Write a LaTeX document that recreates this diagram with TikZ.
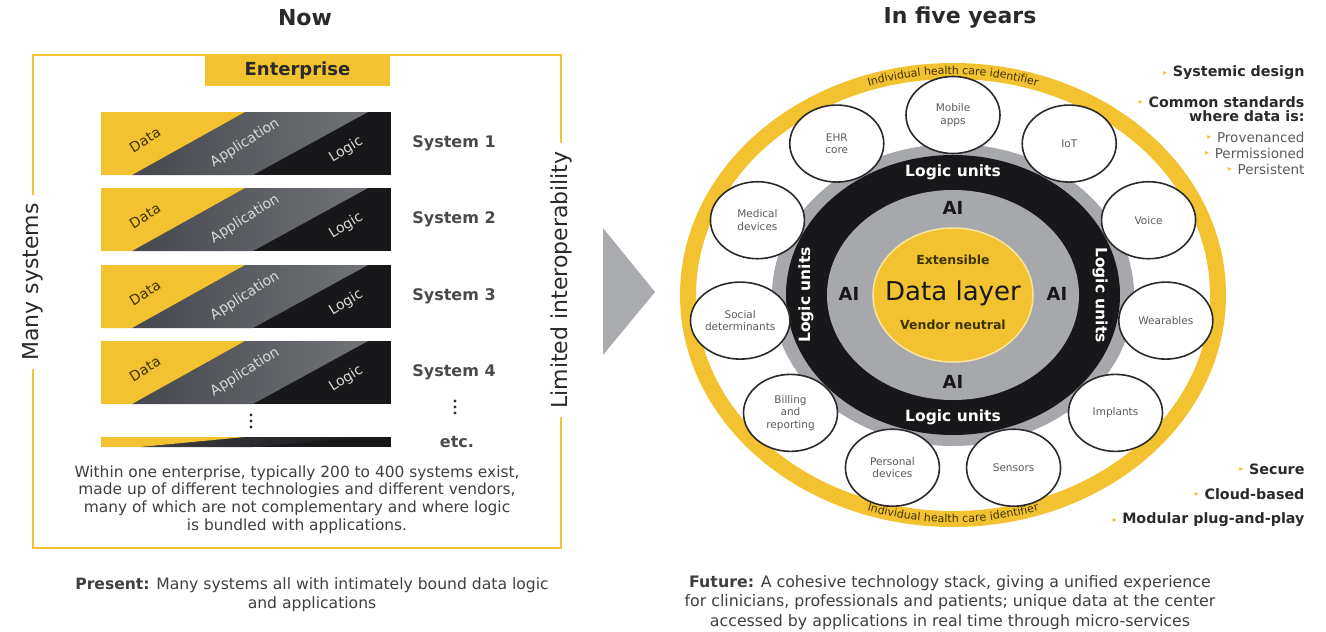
\documentclass[tikz,border=0pt]{standalone}
\usepackage{fontspec}
\setmainfont{DejaVu Sans}
\usetikzlibrary{shapes.geometric,decorations.text}

\definecolor{eyyellow}{HTML}{F3C230}
\definecolor{eygray}{HTML}{4D5055}
\definecolor{eyblack}{HTML}{18181A}
\definecolor{discgray}{HTML}{A6A8AB}
\definecolor{arrowgray}{HTML}{A9ABAE}
\definecolor{inkgray}{HTML}{5A5A5C}
\definecolor{darkink}{HTML}{2A2A2C}
\definecolor{olive}{HTML}{3D3300}

\newcommand{\fs}[2]{\fontsize{#1}{#2}\selectfont}
\newcommand{\ringfont}{\fontsize{11}{11}\selectfont\color{olive}}

\tikzset{
  frame/.style={eyyellow, line width=2pt},
  heading/.style={font=\bfseries\fs{22}{25}, text=darkink},
  sidetitle/.style={font=\fs{22}{26}, text=darkink, rotate=90, inner sep=8pt},
  syslabel/.style={font=\bfseries\fs{16}{18}, text=darkink!85},
  barlabel/.style={font=\fs{14}{16}, rotate=32},
  satellite/.style={ellipse, draw=darkink, line width=1.6pt, fill=white,
    minimum width=94pt, minimum height=77pt, inner sep=0pt, align=center,
    font=\fs{10.5}{12.5}, text=inkgray},
  unitlabel/.style={font=\bfseries\fs{15.5}{17}, text=white},
  ailabel/.style={font=\bfseries\fs{18}{20}, text=eyblack},
  pointer/.style={anchor=east, label={[text=eyyellow, font=\fs{8}{8}, inner sep=2pt]left:▸}},
  keypoint/.style={pointer, font=\bfseries\fs{14.3}{16}, text=darkink},
  subpoint/.style={pointer, font=\fs{13.5}{15}, text=inkgray},
  caption/.style={align=center, font=\fs{15.8}{19.5}, text=darkink!90},
}

\begin{document}
\begin{tikzpicture}[x=1pt, y=1pt]
\useasboundingbox (0,0) rectangle (1326,-632);
% headings
\node[heading] (now) at (305,-18) {Now};
\node[heading] (fiveyears) at (960,-18) {In five years};

% enterprise frame
\node[sidetitle] (many) at (33,-282) {Many systems};
\node[sidetitle] (limited) at (561,-280) {Limited interoperability};
\draw[frame] (many.east) -- (33,-55) -- (561,-55) -- (limited.east);
\draw[frame] (many.west) -- (33,-548) -- (561,-548) -- (limited.west);
\fill[eyyellow] (205,-55) rectangle (390,-86);
\node[font=\bfseries\fs{18}{20}, text=darkink] (enterprise) at (297.5,-70.5) {Enterprise};

% systems
\foreach \top/\n in {112/1, 188/2, 265/3, 341/4} {
  \fill[eyblack] (101,-\top) rectangle (391,-\top-63);
  \shade[left color=eygray!90!black, right color=eygray!80!white]
    (245,-\top) -- (368,-\top) -- (253,-\top-63) -- (132,-\top-63) -- cycle;
  \fill[eyyellow] (101,-\top) -- (245,-\top) -- (132,-\top-63) -- (101,-\top-63) -- cycle;
  \node[barlabel, text=olive] (data\n) at (145,-\top-28) {Data};
  \node[barlabel, text=white!70!gray] (app\n) at (245,-\top-31) {Application};
  \node[barlabel, text=white!70!gray] (logic\n) at (346,-\top-38) {Logic};
  \node[syslabel] (sys\n) at (454,-\top-31) {System \n};
}
% etc.
\fill[eyblack] (101,-437) rectangle (391,-447);
\shade[left color=eygray!80!black, right color=eyblack] (245,-437) -- (368,-437) -- (253,-447) -- (140,-447) -- cycle;
\fill[eyyellow] (101,-437) -- (245,-437) -- (140,-447) -- (101,-447) -- cycle;
\foreach \y in {-415,-421,-427} \fill[darkink] (251,\y) circle (1.6);
\foreach \y in {-401,-407,-413} \fill[darkink] (455,\y) circle (1.6);
\node[syslabel] (etc) at (457,-442) {etc.};
\node[caption, font=\fs{15.4}{17.7}] (within) at (297,-499.5)
  {Within one enterprise, typically 200 to 400 systems exist,\\
   made up of different technologies and different vendors,\\
   many of which are not complementary and where logic\\
   is bundled with applications.};
\node[caption, font=\fs{15.6}{19.5}] (present) at (312,-594.5)
  {\textbf{Present:} Many systems all with intimately bound data logic\\and applications};

% arrow
\fill[arrowgray] (603,-228) -- (655,-292) -- (603,-355) -- cycle;

% data layer
\coordinate (hub) at (953,-295);
\draw[eyyellow, line width=16pt] (hub) ellipse [x radius=265, y radius=224];
\fill[discgray] (hub) ellipse [x radius=181, y radius=151];
\fill[eyblack] (hub) ellipse [x radius=167, y radius=140];
\fill[discgray] (hub) ellipse [x radius=126, y radius=105];
\draw[fill=eyyellow, draw=white!55!eyyellow, line width=1.5pt] (hub) ellipse [x radius=80, y radius=67];
\path[decorate, decoration={text along path, text align=center, raise=-3.5pt,
  text={|\ringfont|Individual health care identifier}}]
  ([shift={(125:265 and 224)}]hub) arc [start angle=125, end angle=55, x radius=265, y radius=224];
\path[decorate, decoration={text along path, text align=center, raise=-3.5pt,
  text={|\ringfont|Individual health care identifier}}]
  ([shift={(235:265 and 224)}]hub) arc [start angle=235, end angle=305, x radius=265, y radius=224];
\node[font=\bfseries\fs{12.5}{14}, text=olive] (extensible) at (953,-260) {Extensible};
\node[font=\fs{26}{28}, text=eyblack] (datalayer) at (953,-293) {Data layer};
\node[font=\bfseries\fs{12.5}{14}, text=olive] (neutral) at (953,-325) {Vendor neutral};
\node[ailabel] (aitop) at (953,-208) {AI};
\node[ailabel] (aibottom) at (953,-382) {AI};
\node[ailabel] (aileft) at (849,-294) {AI};
\node[ailabel] (airight) at (1057,-294) {AI};
\node[unitlabel] (lutop) at (953,-172) {Logic units};
\node[unitlabel] (lubottom) at (953,-417) {Logic units};
\node[unitlabel, rotate=90] (luleft) at (806,-295) {Logic units};
\node[unitlabel, rotate=-90] (luright) at (1100,-295) {Logic units};

% plug-ins
\foreach \lab [count=\k from 0, evaluate=\k as \ang using 90+\k*360/11] in
  {{Mobile\\apps}, {EHR\\core}, {Medical\\devices}, {Social\\determinants},
   {Billing\\and\\reporting}, {Personal\\devices}, {Sensors}, {Implants},
   {Wearables}, {Voice}, {IoT}}
  \node[satellite] (sat\k) at ([shift={(\ang:215 and 180)}]hub) {\lab};

% properties
\node[keypoint] (systemic) at (1308,-73) {Systemic design};
\node[keypoint] (common) at (1308,-102) {Common standards};
\node[anchor=east, font=\bfseries\fs{14.3}{16}, text=darkink] (wheredata) at (1308,-116) {where data is:};
\node[subpoint] (prov) at (1308,-137) {Provenanced};
\node[subpoint] (perm) at (1308,-153) {Permissioned};
\node[subpoint] (pers) at (1308,-169) {Persistent};
\node[keypoint] (secure) at (1308,-469) {Secure};
\node[keypoint] (cloud) at (1308,-494) {Cloud-based};
\node[keypoint] (modular) at (1308,-520) {Modular plug-and-play};
\node[caption] (futuretext) at (950,-602.5)
  {\textbf{Future:} A cohesive technology stack, giving a unified experience\\
   for clinicians, professionals and patients; unique data at the center\\
   accessed by applications in real time through micro-services};
\end{tikzpicture}
\end{document}
